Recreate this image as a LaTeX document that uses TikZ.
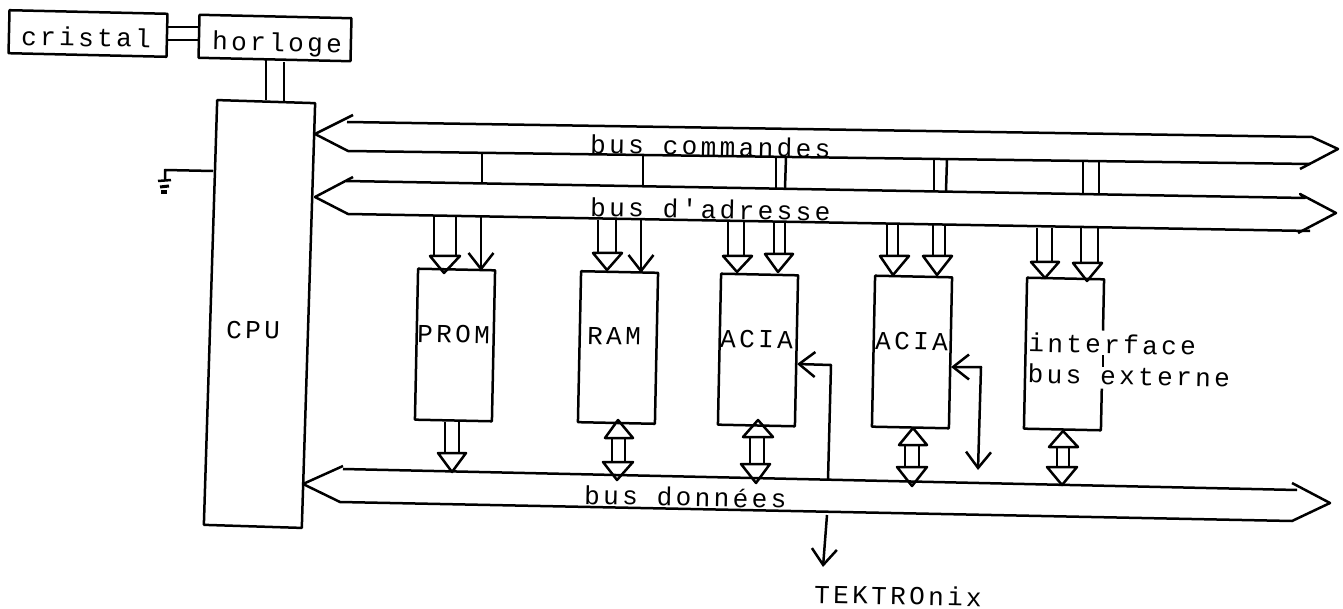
\documentclass[tikz,border=0pt]{standalone}
\usepackage{fontspec}
\usetikzlibrary{arrows.meta,shapes.misc}
\newfontfamily\matrixfont[LetterSpace=13]{Liberation Mono}
\tikzset{
	wire/.style={line width=2.5pt, line join=round},
	barb/.tip={Straight Barb[length=16pt,width=25pt,line width=2.5pt]},
	signal/.style={wire, -barb},
	box/.style={wire, draw, rectangle, inner sep=0pt, rotate=-1.3},
	module/.style={wire, draw, chamfered rectangle, chamfered rectangle corners=north east, chamfered rectangle xsep=7pt, chamfered rectangle ysep=7pt, inner sep=0pt, minimum width=77pt, minimum height=151pt, rotate=-1.2},
	legend/.style={anchor=base west, inner sep=0pt, rotate=-1.2, font=\matrixfont\fontsize{26}{31}\selectfont}
}
\begin{document}
\begin{tikzpicture}[x=1pt, y=-1pt]
	\useasboundingbox (0,0) rectangle (1343,609);

	% boxes
	\node[box, minimum width=158pt, minimum height=43pt] (cristal) at (88,33.5) {};
	\node[box, minimum width=152pt, minimum height=43pt] (horloge) at (275,38) {};
	\node[box, minimum width=98pt, minimum height=425pt, rotate=-0.5] (cpu) at (259.5,314) {};
	\node[module] (prom) at (455,345) {};
	\node[module] (ram) at (618,347.5) {};
	\node[module] (aciaA) at (758,350) {};
	\node[module] (aciaB) at (912,352) {};
	\node[module] (iface) at (1064,354) {};

	% buses
	\draw[wire] (353,115) -- (315,134) -- (348,151) -- (1310,164);
	\draw[wire] (347,122) -- (1312,137) -- (1338,149) -- (1300,169);
	\draw[wire] (353,177) -- (315,197) -- (348,214) -- (1310,231);
	\draw[wire] (346,181) -- (1305,198) -- (1300,194) -- (1336,213) -- (1298,233);
	\draw[wire] (343,466) -- (303,484) -- (340,502) -- (1292,521) -- (1330,503) -- (1292,483);
	\draw[wire] (343,469) -- (1297,490);

	% parallel lines
	\foreach \n/\xa/\xb/\ya/\yb in {
		cl/168/199/27/27, cm/168/199/40/40,
		hc/266/266/60/100, hd/284/284/62/102,
		ca/776/776/157/188, cb/786/785/157/188,
		cc/934/934/159/191, cd/947/946/159/191,
		ce/1083/1083/162/194, cf/1099/1099/162/194,
		pa/434/434/216/256, pb/456/456/216/256,
		ra/598/598/220/253, rb/616/616/220/253,
		aa/728/728/222/256, ab/744/744/222/256,
		ac/774/774/222/254, ad/785/785/222/254,
		ba/887/887/225/256, bb/898/898/225/256,
		bc/933/933/225/256, bd/945/945/225/256,
		ia/1037/1037/228/262, ib/1052/1052/228/262,
		ic/1081/1081/226/263, id/1098/1098/226/263,
		pc/445/445/422/453, pd/459/459/422/453,
		rc/612/612/438/462, rd/625/625/438/462,
		ae/750/750/437/464, af/764/764/437/464,
		be/905/905/445/467, bf/919/919/445/467,
		ie/1057/1057/447/467, if/1069/1069/447/467}{
		\coordinate (\n-s) at (\xa,\ya);
		\coordinate (\n-e) at (\xb,\yb);
		\draw[wire] (\n-s) -- (\n-e);
	}

	% hollow triangles
	\foreach \n/\xl/\xr/\y/\xt/\yt in {
		ta/430/460/256/444/273, tb/593/622/253/607/270,
		tc/723/752/256/737/272, td/765/793/254/778/272,
		te/880/909/256/893/275, tf/923/952/256/937/275,
		tg/1031/1059/262/1045/278, th/1073/1102/263/1087/281,
		ti/438/466/453/452/472,
		tj/605/633/438/618/420, tk/603/633/462/617/480,
		tl/743/773/437/758/420, tm/741/770/464/756/483,
		tn/899/927/445/913/428, to/897/927/467/912/486,
		tp/1049/1078/447/1063/431, tq/1047/1077/467/1062/485}{
		\draw[wire] (\xl,\y) -- (\xr,\y) -- (\xt,\yt) -- cycle;
	}

	% single lines
	\coordinate (cmdA) at (482,152);
	\coordinate (adrA) at (482,182);
	\coordinate (cmdB) at (643,155);
	\coordinate (adrB) at (643,186);
	\coordinate (adrC) at (481,216);
	\coordinate (adrD) at (641,220);
	\draw[wire] (cmdA) -- (adrA);
	\draw[wire] (cmdB) -- (adrB);
	\draw[signal] (adrC) -- (481,271);
	\draw[signal] (adrD) -- (641,273);

	% ACIA lines
	\coordinate (dataA) at (828,480);
	\coordinate (dataB) at (827,515);
	\coordinate (tek) at (823,567);
	\coordinate (endB) at (978,470);
	\coordinate (inA) at (797,364);
	\coordinate (inB) at (951,367);
	\draw[signal] (dataA) -- (831,365) -- (inA);
	\draw[signal] (dataB) -- (tek);
	\draw[wire, barb-barb] (inB) -- (981,367) -- (endB);

	% ground
	\coordinate (gnd) at (165,170);
	\draw[wire] (213,171) -- (gnd) -- (165,180);
	\draw[wire] (158,181) -- (171,180);
	\draw[line width=3pt] (160,187) -- (169,186);
	\draw[line width=3.5pt] (161,192) -- (167,192);

	% texts
	\node[legend] (tcristal) at (21,45) {cristal};
	\node[legend] (thorloge) at (212,50) {horloge};
	\node[legend] (tcpu) at (226,338) {CPU};
	\node[legend] (tprom) at (417,342) {PROM};
	\node[legend] (tram) at (587,344) {RAM};
	\node[legend] (tacia) at (720,347) {ACIA};
	\node[legend] (taciab) at (875,349) {ACIA};
	\node[legend, anchor=west, align=left, fill=white, inner ysep=4pt] (tiface) at (1028,358) {interface\\bus externe};
	\draw[wire] (1103,355) -- (1103,367);
	\node[legend] (tcmd) at (590,153) {bus commandes};
	\node[legend] (tadr) at (590,216) {bus d'adresse};
	\node[legend] (tdon) at (584,504) {bus données};
	\node[legend] (ttek) at (814,603) {TEKTROnix};
\end{tikzpicture}
\end{document}
